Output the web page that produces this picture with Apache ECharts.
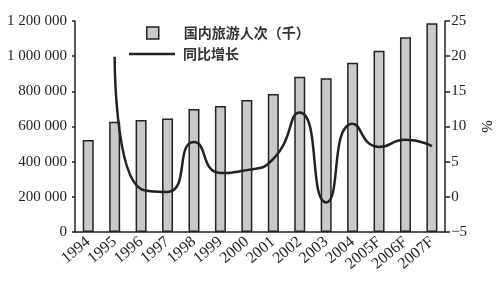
<!DOCTYPE html>
<html><head><meta charset="utf-8">
<script src="https://cdn.jsdelivr.net/npm/echarts@6/dist/echarts.min.js"></script>
<style>html,body{margin:0;padding:0;background:#fff}#c{width:501px;height:281px}</style>
</head><body><div id="c"></div>
<script>
const categories = ['1994','1995','1996','1997','1998','1999','2000','2001','2002','2003','2004','2005F','2006F','2007F'];
const tripsThousand = [523000, 627000, 637000, 646000, 700000, 717000, 751000, 785000, 883000, 874000, 963000, 1031000, 1107000, 1187000];
const growthPct = [null, 19.9, 1.1, 0.7, 7.8, 3.4, 3.8, 5.4, 12.0, -0.8, 10.4, 7.1, 8.1, 7.2];
const leftTicks = [0, 200000, 400000, 600000, 800000, 1000000, 1200000];
const rightTicks = [-5, 0, 5, 10, 15, 20, 25];
const barName = '国内旅游人次（千）';
const lineName = '同比增长';

const serif = '"Liberation Serif", "DejaVu Serif", serif';
const cjk = '"Noto Sans CJK SC", sans-serif';
const ink = '#222';

const chart = echarts.init(document.getElementById('c'));
chart.setOption({
  animation: false,
  backgroundColor: '#fff',
  grid: {left: 75, right: 50, top: 21, bottom: 49},
  legend: [
    {data: [{name: barName, icon: 'rect'}], left: 146, top: 26, itemWidth: 12, itemHeight: 12, padding: 0,
     itemStyle: {borderColor: ink, borderWidth: 1.5, color: '#c9c9c9'},
     textStyle: {fontFamily: cjk, fontSize: 14, fontWeight: 'bold', color: '#333', padding: [0,0,0,20]}},
    {data: [{name: lineName, icon: 'rect'}], left: 129, top: 47, itemWidth: 46, itemHeight: 2.5, padding: 0,
     itemStyle: {color: ink, borderWidth: 0},
     textStyle: {fontFamily: cjk, fontSize: 14, fontWeight: 'bold', color: '#333', padding: [0,0,0,3]}}
  ],
  xAxis: {
    type: 'category', data: categories, boundaryGap: true,
    axisLine: {lineStyle: {color: ink, width: 1.5}},
    axisTick: {inside: true, length: 5, lineStyle: {color: ink, width: 1.5}},
    axisLabel: {rotate: 40, margin: 8, fontFamily: serif, fontSize: 16, color: ink, interval: 0}
  },
  yAxis: [
    {type: 'value', min: leftTicks[0], max: leftTicks[leftTicks.length-1], interval: 200000,
     splitLine: {show: false},
     axisLine: {show: true, lineStyle: {color: ink, width: 1.5}},
     axisTick: {show: true, length: 3, lineStyle: {color: ink, width: 1.5}},
     axisLabel: {margin: 8, fontFamily: serif, fontSize: 15, color: ink,
       formatter: v => String(v).replace(/\B(?=(\d{3})+(?!\d))/g, ' ')}},
    {type: 'value', min: rightTicks[0], max: rightTicks[rightTicks.length-1], interval: 5,
     position: 'right', splitLine: {show: false},
     name: '%', nameLocation: 'middle', nameGap: 30, nameRotate: -90,
     nameTextStyle: {fontFamily: serif, fontSize: 15, color: ink},
     axisLine: {show: true, lineStyle: {color: ink, width: 1.5}},
     axisTick: {show: true, length: 5, lineStyle: {color: ink, width: 1.5}},
     axisLabel: {margin: 6, fontFamily: serif, fontSize: 15, color: ink,
       formatter: v => v < 0 ? '\u2212' + Math.abs(v) : String(v)}}
  ],
  series: [
    {name: barName, type: 'bar', data: tripsThousand, barWidth: 11, yAxisIndex: 0,
     itemStyle: {color: '#c9c9c9', borderColor: ink, borderWidth: 1.5}},
    {name: lineName, type: 'line', data: growthPct, yAxisIndex: 1, smooth: 0.6,
     symbol: 'none', lineStyle: {color: ink, width: 2.5}, itemStyle: {color: ink}}
  ]
});
</script></body></html>
